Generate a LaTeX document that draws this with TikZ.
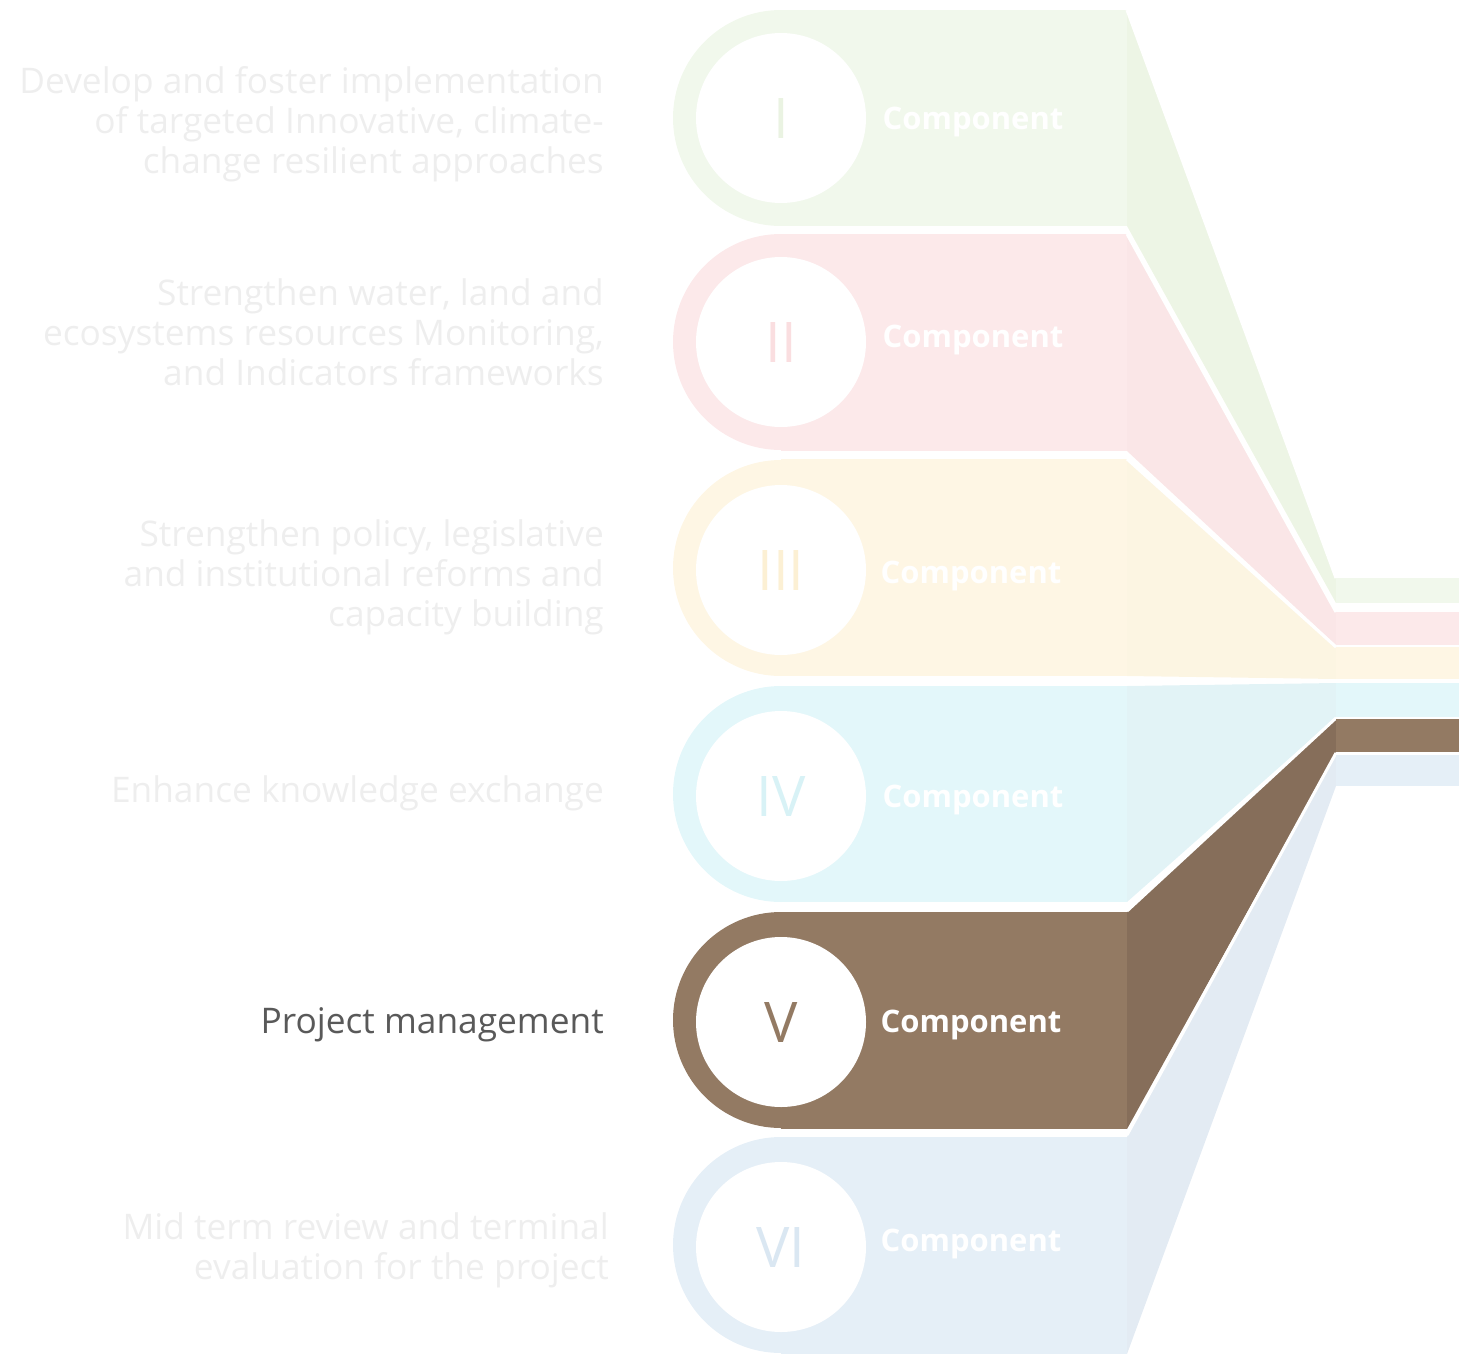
\documentclass[tikz,border=0pt]{standalone}
\usepackage{fontspec}
\setmainfont{Open Sans}
\usepackage{tikz}

\definecolor{cI}{HTML}{F1F8EC}
\definecolor{wI}{HTML}{EDF5E5}
\definecolor{nI}{HTML}{EAF3E2}
\definecolor{cII}{HTML}{FCE9EA}
\definecolor{wII}{HTML}{FAE6E7}
\definecolor{nII}{HTML}{FADEE0}
\definecolor{cIII}{HTML}{FEF6E4}
\definecolor{wIII}{HTML}{FCF5E2}
\definecolor{nIII}{HTML}{FCF0D4}
\definecolor{cIV}{HTML}{E3F7FA}
\definecolor{wIV}{HTML}{E2F3F6}
\definecolor{nIV}{HTML}{D8F2F6}
\definecolor{cV}{HTML}{937A63}
\definecolor{wV}{HTML}{866E5A}
\definecolor{cVI}{HTML}{E5EFF7}
\definecolor{wVI}{HTML}{E3EBF3}
\definecolor{nVI}{HTML}{DAE7F2}
\definecolor{faded}{HTML}{EEEEEE}
\definecolor{dark}{HTML}{595959}

\tikzset{
  cut/.style={white, line width=3pt},
  hole/.style={circle, fill=white, minimum size=170pt, inner sep=0pt},
  numeral/.style={font=\fontsize{56}{60}\selectfont, text=#1, text height=40pt, text depth=0pt},
  comp/.style={font=\bfseries\fontsize{31}{36}\selectfont, text=white, text height=22pt, text depth=0pt},
  goal/.style={anchor=east, align=right, inner sep=0pt, font=\fontsize{35.3}{40}\selectfont, text=#1}
}

\begin{document}
\begin{tikzpicture}[x=1pt,y=-1pt]
\useasboundingbox (0,0) rectangle (1459,1354);
% I
\fill[cI] (781,118) circle (108);
\fill[cI] (781,10) rectangle (1127,226);
\fill[wI] (1127,10) -- (1336,578) -- (1336,603) -- (1127,226) -- cycle;
\draw[cut] (1127,10) -- (1336,578);
\fill[cI] (1336,578) rectangle (1459,603);
\node[hole, numeral=nI] (numI) at (781,118) {I};
\node[comp] (compI) at (973,118) {Component};
\node[goal=faded] (goalI) at (604,124) {Develop and foster implementation\\of targeted Innovative, climate-\\change resilient approaches};
% II
\fill[cII] (781,342) circle (108);
\fill[cII] (781,234) rectangle (1127,451);
\fill[wII] (1127,234) -- (1336,612) -- (1336,645) -- (1127,451) -- cycle;
\draw[cut] (1127,234) -- (1336,612);
\fill[cII] (1336,612) rectangle (1459,645);
\node[hole, numeral=nII] (numII) at (781,342) {II};
\node[comp] (compII) at (973,336) {Component};
\node[goal=faded] (goalII) at (604,332) {Strengthen water, land and\\ecosystems resources Monitoring,\\and Indicators frameworks};
% III
\fill[cIII] (781,568) circle (108);
\fill[cIII] (781,459) rectangle (1127,676);
\fill[wIII] (1127,459) -- (1336,647) -- (1336,679) -- (1127,676) -- cycle;
\draw[cut] (1127,459) -- (1336,647);
\fill[cIII] (1336,647) rectangle (1459,679);
\node[hole, numeral=nIII] (numIII) at (781,570) {III};
\node[comp] (compIII) at (971,572) {Component};
\node[goal=faded] (goalIII) at (604,577) {Strengthen policy, legislative\\and institutional reforms and\\capacity building};
% IV
\fill[cIV] (781,794) circle (108);
\fill[cIV] (781,686) rectangle (1127,902);
\fill[wIV] (1127,686) -- (1336,683) -- (1336,717) -- (1127,902) -- cycle;
\draw[cut] (1127,684) -- (1336,681);
\fill[cIV] (1336,683) rectangle (1459,717);
\node[hole, numeral=nIV] (numIV) at (781,796) {IV};
\node[comp] (compIV) at (973,796) {Component};
\node[goal=faded] (goalIV) at (604,793) {Enhance knowledge exchange};
% V
\fill[cV] (781,1020) circle (108);
\fill[cV] (781,912) rectangle (1127,1129);
\fill[wV] (1127,912) -- (1336,719) -- (1336,752) -- (1127,1129) -- cycle;
\draw[cut] (1127,911) -- (1336,718);
\fill[cV] (1336,719) rectangle (1459,752);
\node[hole, numeral=cV] (numV) at (781,1022) {V};
\node[comp] (compV) at (971,1021) {Component};
\node[goal=dark] (goalV) at (604,1025) {Project management};
% VI
\fill[cVI] (781,1245) circle (108);
\fill[cVI] (781,1137) rectangle (1127,1354);
\fill[wVI] (1127,1137) -- (1336,755) -- (1336,786) -- (1127,1354) -- cycle;
\draw[cut] (1127,1135) -- (1336,753);
\fill[cVI] (1336,755) rectangle (1459,786);
\node[hole, numeral=nVI] (numVI) at (781,1247) {VI};
\node[comp] (compVI) at (971,1240) {Component};
\node[goal=faded] (goalVI) at (609,1250) {Mid term review and terminal\\evaluation for the project};
\end{tikzpicture}
\end{document}
